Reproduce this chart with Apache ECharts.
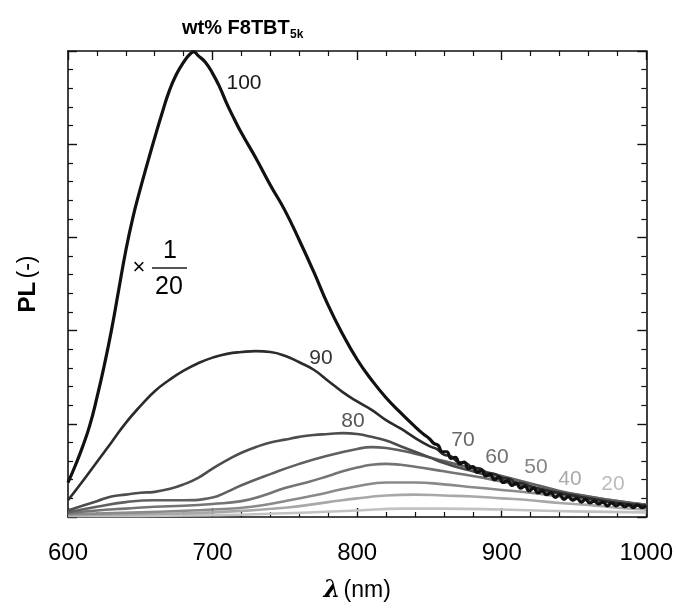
<!DOCTYPE html>
<html>
<head>
<meta charset="utf-8">
<script src="https://cdn.jsdelivr.net/npm/echarts@6/dist/echarts.min.js"></script>
<style>
html,body{margin:0;padding:0;background:#fff;}
#chart{width:676px;height:609px;}
</style>
</head>
<body>
<div id="chart"></div>
<script>
// ---- data (wavelength nm, PL arbitrary units; 100 wt% curve shown x 1/20) ----
const seriesNames = ['100', '90', '80', '70', '60', '50', '40', '20'];
const pl100 = [[600,0.37],[605,0.55],[610,0.75],[615,0.98],[620,1.28],[625,1.62],[630,2.00],[635,2.43],[640,2.86],[645,3.22],[650,3.52],[655,3.80],[660,4.07],[665,4.33],[670,4.57],[675,4.75],[680,4.88],[684,4.96],[687,4.99],[690,4.95],[695,4.88],[700,4.76],[705,4.61],[710,4.43],[715,4.27],[720,4.12],[730,3.85],[740,3.56],[750,3.29],[760,2.97],[770,2.63],[780,2.27],[790,1.96],[800,1.69],[810,1.47],[820,1.28],[830,1.12],[840,0.97],[845,0.90],
  [850,0.84],[853,0.79],[856,0.77],[859,0.70],[862,0.70],[865,0.63],[868,0.64],[871,0.57],[874,0.59],[877,0.52],[880,0.54],[883,0.48],[886,0.50],[889,0.44],[892,0.46],[895,0.40],[898,0.43],[901,0.37],[904,0.39],[907,0.34],[910,0.36],[913,0.31],[916,0.33],[919,0.28],[922,0.31],[925,0.26],[928,0.28],[931,0.24],[934,0.26],[937,0.21],[940,0.24],[943,0.19],[946,0.22],[949,0.18],[952,0.20],[955,0.16],[958,0.19],[961,0.15],[964,0.17],[967,0.14],[970,0.16],[973,0.12],[976,0.15],[979,0.12],[982,0.14],[985,0.11],[988,0.13],[991,0.10],[994,0.13],[997,0.10],[1000,0.12]];
const pl90 = [[600,0.18],[610,0.38],[620,0.59],[630,0.80],[640,1.01],[650,1.19],[660,1.35],[670,1.47],[680,1.57],[690,1.65],[700,1.71],[710,1.75],[720,1.77],[730,1.78],[740,1.77],[750,1.73],[760,1.66],[770,1.58],[780,1.46],[790,1.34],[800,1.24],[810,1.15],[820,1.04],[830,0.95],[840,0.85],[850,0.76],[855,0.73],[860,0.67],[865,0.65],[870,0.59],[875,0.58],[880,0.53],[885,0.52],[890,0.47],[895,0.46],[900,0.42],[905,0.41],[910,0.37],[915,0.36],[920,0.33],[930,0.29],[940,0.26],[950,0.23],[960,0.20],[980,0.15],[1000,0.12]];
const pl80 = [[600,0.07],[610,0.12],[620,0.17],[630,0.22],[640,0.24],[650,0.26],[660,0.27],[670,0.30],[680,0.35],[690,0.42],[700,0.52],[710,0.61],[720,0.69],[730,0.75],[740,0.80],[750,0.83],[760,0.86],[770,0.88],[780,0.89],[790,0.90],[800,0.89],[810,0.86],[820,0.82],[830,0.76],[840,0.70],[850,0.64],[860,0.58],[870,0.53],[880,0.49],[900,0.40],[920,0.31],[940,0.25],[960,0.20],[980,0.15],[1000,0.12]];
const pl70 = [[600,0.05],[620,0.11],[640,0.16],[660,0.18],[680,0.18],[700,0.21],[710,0.27],[720,0.34],[740,0.46],[760,0.57],[780,0.66],[800,0.73],[810,0.75],[820,0.74],[840,0.68],[860,0.60],[880,0.52],[900,0.44],[920,0.36],[940,0.28],[960,0.22],[980,0.17],[1000,0.13]];
const pl60 = [[600,0.04],[620,0.07],[640,0.09],[660,0.11],[680,0.12],[700,0.14],[720,0.17],[735,0.23],[750,0.31],[765,0.37],[780,0.44],[790,0.49],[800,0.53],[810,0.56],[820,0.57],[830,0.56],[840,0.54],[860,0.49],[880,0.44],[900,0.38],[920,0.32],[940,0.27],[960,0.22],[980,0.17],[1000,0.13]];
const pl50 = [[600,0.03],[650,0.05],[700,0.08],[727,0.11],[750,0.17],[770,0.23],[790,0.30],[800,0.33],[820,0.37],[840,0.37],[860,0.35],[880,0.32],[900,0.29],[920,0.26],[940,0.22],[960,0.18],[980,0.15],[1000,0.11]];
const pl40 = [[600,0.02],[650,0.03],[700,0.05],[750,0.10],[780,0.16],[800,0.20],[820,0.23],[840,0.24],[860,0.23],[880,0.22],[900,0.20],[920,0.18],[940,0.15],[960,0.13],[980,0.10],[1000,0.08]];
const pl20 = [[600,0.01],[700,0.02],[750,0.04],[800,0.07],[830,0.09],[860,0.09],[900,0.08],[950,0.06],[1000,0.05]];
const seriesData = [pl100, pl90, pl80, pl70, pl60, pl50, pl40, pl20];
const xTicks = [600, 700, 800, 900, 1000];
const lineColors = ['#111111', '#2b2b2b', '#4d4d4d', '#606060', '#747474', '#8a8a8a', '#a8a8a8', '#c2c2c2'];
const labelColors = ['#1a1a1a', '#333333', '#555555', '#666666', '#707070', '#858585', '#aaaaaa', '#bbbbbb'];
const labelPos = [[244,83],[321,358],[353,421],[463,440],[497,457],[536,467],[570,479],[613,484]];

const FONT = '"Liberation Sans", Arial, sans-serif';
const chart = echarts.init(document.getElementById('chart'), null, {renderer: 'canvas'});

const axisCommon = {
  axisLine: {show: true, onZero: false, lineStyle: {color: '#111', width: 1.6}},
  axisTick: {show: true, inside: true, length: 9, lineStyle: {color: '#111', width: 1.4}},
  minorTick: {show: true, splitNumber: 5, length: 5, lineStyle: {color: '#111', width: 1.2}},
  splitLine: {show: false},
  minorSplitLine: {show: false}
};

const series = seriesData.map((d, i) => ({
  name: seriesNames[i],
  type: 'line',
  xAxisIndex: 0,
  yAxisIndex: 0,
  data: d,
  smooth: 0.5,
  symbol: 'none',
  z: 10 - i,
  lineStyle: {color: lineColors[i], width: i === 0 ? 3.2 : 2.6}
}));

const graphics = [];
labelPos.forEach((p, i) => {
  graphics.push({type: 'text', x: p[0], y: p[1], z: 100,
    style: {text: seriesNames[i], fill: labelColors[i], font: '21px ' + FONT, textAlign: 'center', textVerticalAlign: 'middle'}});
});
// title
graphics.push({type: 'text', x: 182, y: 28, style: {text: 'wt% F8TBT', fill: '#000', font: 'bold 20px ' + FONT, textAlign: 'left', textVerticalAlign: 'middle'}});
graphics.push({type: 'text', x: 290, y: 35, style: {text: '5k', fill: '#000', font: 'bold 12px ' + FONT, textAlign: 'left', textVerticalAlign: 'middle'}});
// x 1/20 annotation
graphics.push({type: 'text', x: 139, y: 268, style: {text: '×', fill: '#000', font: '22px ' + FONT, textAlign: 'center', textVerticalAlign: 'middle'}});
graphics.push({type: 'text', x: 170, y: 251, style: {text: '1', fill: '#000', font: '25px ' + FONT, textAlign: 'center', textVerticalAlign: 'middle'}});
graphics.push({type: 'line', shape: {x1: 152, y1: 268, x2: 187, y2: 268}, style: {stroke: '#555', lineWidth: 2}});
graphics.push({type: 'text', x: 169, y: 287, style: {text: '20', fill: '#000', font: '25px ' + FONT, textAlign: 'center', textVerticalAlign: 'middle'}});

chart.setOption({
  backgroundColor: '#fff',
  animation: false,
  grid: {left: 68, top: 51, right: 29, bottom: 92, containLabel: false},
  xAxis: [
    Object.assign({}, axisCommon, {
      type: 'value', position: 'bottom', min: 600, max: 1000, interval: 100,
      axisLabel: {show: true, fontSize: 24, color: '#000', fontFamily: FONT, margin: 24,
        formatter: v => xTicks.includes(v) ? String(v) : ''},
      name: '{l|λ} {n|(nm)}', nameLocation: 'middle', nameGap: 62,
      nameTextStyle: {fontFamily: FONT, color: '#000', rich: {
        l: {fontSize: 24, fontWeight: 'bold', fontStyle: 'italic', fontFamily: '"DejaVu Serif", serif', color: '#000'},
        n: {fontSize: 23, fontFamily: FONT, color: '#000'}}}
    }),
    Object.assign({}, axisCommon, {
      type: 'value', position: 'top', min: 600, max: 1000, interval: 100,
      axisLabel: {show: false}
    })
  ],
  yAxis: [
    Object.assign({}, axisCommon, {
      type: 'value', position: 'left', min: 0, max: 5, interval: 1,
      axisLabel: {show: false},
      name: '{b|PL} {n|(-)}', nameLocation: 'middle', nameGap: 28,
      nameTextStyle: {fontFamily: FONT, color: '#000', rich: {
        b: {fontSize: 24, fontWeight: 'bold', fontFamily: FONT, color: '#000'},
        n: {fontSize: 23, fontFamily: FONT, color: '#000'}}}
    }),
    Object.assign({}, axisCommon, {
      type: 'value', position: 'right', min: 0, max: 5, interval: 1,
      axisLabel: {show: false}
    })
  ],
  series: series,
  graphic: graphics
});
</script>
</body>
</html>
